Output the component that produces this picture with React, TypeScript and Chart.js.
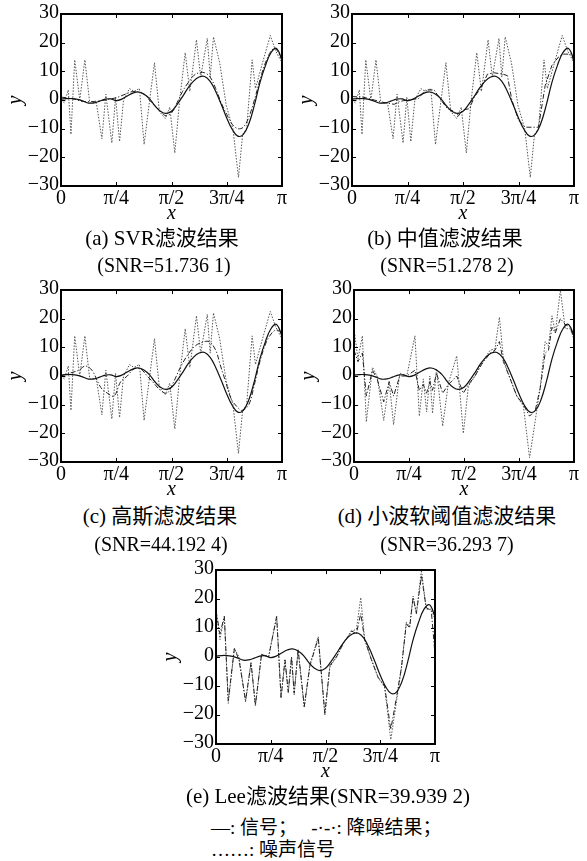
import React, { useEffect, useRef } from "react";
import { Chart, registerables } from "chart.js";
Chart.register(...registerables);

// ---------- tick labels ----------
const xTickValues = [0, 0.25, 0.5, 0.75, 1];
const xTickLabels = ["0", "π/4", "π/2", "3π/4", "π"];
const yTickValues = [-30, -20, -10, 0, 10, 20, 30];

// ---------- original signal (x in units of π) ----------
const signalX = [0, 0.025, 0.05, 0.075, 0.1, 0.125, 0.15, 0.175, 0.2, 0.225, 0.25, 0.275, 0.3, 0.325, 0.35, 0.375, 0.4, 0.425, 0.45, 0.475, 0.5, 0.525, 0.55, 0.575, 0.6, 0.625, 0.65, 0.675, 0.7, 0.725, 0.75, 0.775, 0.8, 0.825, 0.85, 0.875, 0.9, 0.925, 0.95, 0.975, 1.0];
const signalY = [0.3, 0.5, 0.5, 0.2, -0.4, -1.1, -1.0, -0.4, 0.3, 0.4, -0.2, 0.3, 1.4, 2.4, 2.8, 2.1, 0.5, -2.0, -3.9, -4.7, -3.9, -1.6, 1.2, 4.2, 6.6, 8.0, 8.2, 6.5, 3.0, -1.5, -6.3, -10.3, -12.6, -12.0, -8.3, -1.8, 6.0, 12.0, 16.5, 18.0, 14.0];

// ---------- noisy signal used in (a)(b)(c) ----------
const noiseAX = [0, 0.015, 0.033, 0.045, 0.062, 0.085, 0.108, 0.13, 0.16, 0.185, 0.203, 0.23, 0.247, 0.265, 0.283, 0.31, 0.33, 0.355, 0.376, 0.398, 0.423, 0.445, 0.472, 0.492, 0.515, 0.537, 0.562, 0.583, 0.613, 0.632, 0.662, 0.675, 0.69, 0.718, 0.748, 0.778, 0.803, 0.822, 0.84, 0.865, 0.88, 0.912, 0.947, 0.972, 1.0];
const noiseAY = [0, -1, 3.5, -12, 14, 0, 14, -1, -1, -13.5, 2, -15, 1, -14.5, 0, 4, 3, 4, -15.5, -2, 13, -4, -6.5, -2.5, -18.5, 0, 16.5, 3, 21, 8, 21.5, 8, 22, 13, -2, -10, -27, -12, -10, 14, 4, 13, 22.5, 17, 13];

// ---------- (a) SVR result ----------
const svrX = [0, 0.05, 0.1, 0.15, 0.2, 0.25, 0.3, 0.33, 0.375, 0.4, 0.45, 0.475, 0.5, 0.525, 0.55, 0.575, 0.6, 0.625, 0.65, 0.675, 0.7, 0.725, 0.75, 0.775, 0.8, 0.825, 0.85, 0.875, 0.9, 0.925, 0.95, 0.97, 1.0];
const svrY = [1, 0.5, -0.5, -0.5, 0, 0.8, 2.3, 3, 2, 0, -4, -5.5, -4.5, -1, 3, 6, 8.5, 9.5, 9.5, 8, 4, -1, -5, -8.5, -10, -9.5, -6, 0, 7, 13, 17, 18, 14];

// ---------- (b) median result ----------
const medX = [0, 0.05, 0.1, 0.15, 0.19, 0.215, 0.25, 0.3, 0.33, 0.37, 0.4, 0.43, 0.46, 0.48, 0.5, 0.53, 0.55, 0.58, 0.61, 0.64, 0.68, 0.7, 0.72, 0.75, 0.78, 0.84, 0.87, 0.9, 0.93, 0.95, 0.99, 1.0];
const medY = [1.2, 1, 0, -1, -1.5, -0.5, 0, 0.5, 3.5, 3.5, 0, -3, -4, -5.5, -3.5, -3, 1, 4, 9, 9.5, 9, 8.5, 0, -7, -9.5, -9.5, 5, 12, 15, 16, 16, 13];

// ---------- (c) Gaussian result ----------
const gaussX = [0, 0.04, 0.08, 0.11, 0.14, 0.18, 0.21, 0.24, 0.27, 0.3, 0.33, 0.36, 0.39, 0.42, 0.45, 0.48, 0.51, 0.54, 0.57, 0.6, 0.63, 0.67, 0.7, 0.72, 0.745, 0.77, 0.8, 0.82, 0.85, 0.875, 0.9, 0.93, 0.96, 0.98, 1.0];
const gaussY = [0, 1, 2, 3.5, 2, -4, -6, -7, -2, 0, 2.5, 2.5, 0, -2.5, -5, -6, -2, 3, 7, 10, 11.5, 12, 9, 4, -2, -8, -11, -12, -10, -3, 5, 12, 15.5, 16, 15];

// ---------- noisy signal used in (d)(e) ----------
const noiseBX = [0, 0.018, 0.038, 0.056, 0.084, 0.105, 0.135, 0.16, 0.18, 0.208, 0.24, 0.277, 0.297, 0.315, 0.33, 0.345, 0.357, 0.375, 0.403, 0.429, 0.467, 0.497, 0.52, 0.55, 0.58, 0.619, 0.641, 0.661, 0.679, 0.71, 0.74, 0.77, 0.798, 0.824, 0.847, 0.869, 0.884, 0.9, 0.915, 0.938, 0.96, 0.983, 1.0];
const noiseBY = [16.5, 6, 14, -16, 3, 0, -15.5, -2, -17, 1, 0, 14, -14, -1, -12.5, 0, -13, 2.5, -17.5, -2.5, 7, -20, -3.5, 0, 4.5, 9, 9.5, 20.5, 6, -1, -7, -10.5, -28.5, -15.5, -3.5, 12, 10.5, 21, 15, 30, 16.5, 16.5, 13];

// ---------- (d) wavelet soft threshold result ----------
const waveletY = [9, 5, 8, -7, 2, -1, -9, -2, -7, 0, 0, 2, -5, -3, -6, -2, -5, 1, -6, -3, 0, -6, -3, 0, 4, 8, 9, 12, 5, -1, -7, -10, -14, -12, -4, 8, 9, 17, 15, 20, 18, 17, 13];

// ---------- (e) Lee result ----------
const leeY = [16, 8, 14, -15, 3, -1, -15, -2, -16.5, 1, 0, 14, -14, -1, -12, 0, -12.5, 2.5, -17, -3, 6.5, -19.5, -3, 0, 4.5, 9, 8, 15, 6, -1, -7, -10, -25, -14, -3.5, 11.5, 10, 20.5, 15, 28, 17, 16, 1];

const SERIF = "'Liberation Serif', 'Times New Roman', 'Noto Sans CJK SC', serif";

const pts = (xs: number[], ys: number[]) => xs.map((x, i) => ({ x, y: ys[i] }));

type Kind = "signal" | "denoise" | "noise";
interface Series { xs: number[]; ys: number[]; kind: Kind; smooth?: boolean }

const styleFor = (s: Series) => {
  if (s.kind === "signal")
    return { borderColor: "#111", borderWidth: 1.2, borderDash: [], tension: 0.4 };
  if (s.kind === "denoise")
    return { borderColor: "#222", borderWidth: 1, borderDash: [5, 2, 1.2, 2], tension: s.smooth ? 0.35 : 0 };
  return { borderColor: "#555", borderWidth: 1, borderDash: [1.5, 1.5], tension: 0 };
};

const framePlugin = {
  id: "frameTicks",
  afterDatasetsDraw(chart: any) {
    const { ctx, chartArea: a, scales } = chart;
    const xs = scales.x;
    const ys = scales.y;
    ctx.save();
    ctx.strokeStyle = "#000";
    ctx.lineWidth = 1;
    ctx.setLineDash([]);
    ctx.beginPath();
    xTickValues.slice(1, -1).forEach((v) => {
      const px = Math.round(xs.getPixelForValue(v)) + 0.5;
      ctx.moveTo(px, a.bottom);
      ctx.lineTo(px, a.bottom - 4);
      ctx.moveTo(px, a.top);
      ctx.lineTo(px, a.top + 4);
    });
    yTickValues.slice(1, -1).forEach((v) => {
      const py = Math.round(ys.getPixelForValue(v)) + 0.5;
      ctx.moveTo(a.left, py);
      ctx.lineTo(a.left + 4, py);
      ctx.moveTo(a.right, py);
      ctx.lineTo(a.right - 4, py);
    });
    ctx.stroke();
    ctx.lineWidth = 2;
    ctx.strokeRect(a.left, a.top, a.right - a.left, a.bottom - a.top);
    ctx.restore();
  },
};

const Y_AXIS_W = 61;
const X_AXIS_H = 40;
const PAD_TOP = 14;
const PAD_RIGHT = 12;
const TICK_SIZE = 20;

function Panel(props: { plotL: number; plotT: number; plotW: number; plotH: number; series: Series[] }) {
  const ref = useRef<HTMLCanvasElement>(null);
  const { plotL, plotT, plotW, plotH, series } = props;
  const w = Y_AXIS_W + plotW + PAD_RIGHT;
  const h = PAD_TOP + plotH + X_AXIS_H;
  useEffect(() => {
    if (!ref.current) return;
    const chart = new Chart(ref.current, {
      type: "line",
      data: {
        datasets: series.map((s) => ({
          data: pts(s.xs, s.ys),
          pointRadius: 0,
          fill: false,
          ...styleFor(s),
        })),
      },
      options: {
        animation: false,
        responsive: false,
        maintainAspectRatio: false,
        devicePixelRatio: 1,
        layout: { padding: { left: 0, top: PAD_TOP, right: PAD_RIGHT, bottom: 0 } },
        plugins: { legend: { display: false }, tooltip: { enabled: false } },
        scales: {
          x: {
            type: "linear",
            min: 0,
            max: 1,
            border: { display: false },
            grid: { display: false, drawTicks: false },
            afterBuildTicks: (scale: any) => {
              scale.ticks = xTickValues.map((v) => ({ value: v }));
            },
            afterFit: (scale: any) => {
              scale.height = X_AXIS_H;
            },
            ticks: {
              autoSkip: false,
              maxRotation: 0,
              padding: 1,
              color: "#000",
              font: { family: SERIF, size: TICK_SIZE },
              callback: (_v: any, i: number) => xTickLabels[i],
            },
            title: {
              display: true,
              text: "x",
              color: "#000",
              padding: { top: 0, bottom: 0 },
              font: { family: SERIF, size: 20, style: "italic" },
            },
          },
          y: {
            type: "linear",
            min: -30,
            max: 30,
            border: { display: false },
            grid: { display: false, drawTicks: false },
            afterBuildTicks: (scale: any) => {
              scale.ticks = yTickValues.map((v) => ({ value: v }));
            },
            afterFit: (scale: any) => {
              scale.width = Y_AXIS_W;
            },
            ticks: {
              padding: 2,
              labelOffset: -1,
              color: "#000",
              font: { family: SERIF, size: TICK_SIZE },
              callback: (v: any) => String(v).replace("-", "−"),
            },
            title: {
              display: true,
              text: "y",
              color: "#000",
              padding: { top: 4, bottom: 0 },
              font: { family: SERIF, size: 20, style: "italic" },
            },
          },
        },
      } as any,
      plugins: [framePlugin],
    });
    return () => chart.destroy();
  }, []);
  return (
    <canvas
      ref={ref}
      width={w}
      height={h}
      style={{ position: "absolute", left: plotL - Y_AXIS_W, top: plotT - PAD_TOP, width: w, height: h }}
    />
  );
}

function Caption(props: { cx: number; cy: number; text: string; size?: number }) {
  const size = props.size ?? 21;
  return (
    <div
      style={{
        position: "absolute",
        left: props.cx - 200,
        width: 400,
        top: props.cy - 13,
        height: 26,
        lineHeight: "26px",
        textAlign: "center",
        fontFamily: SERIF,
        fontSize: size,
        color: "#000",
        whiteSpace: "nowrap",
      }}
    >
      {props.text}
    </div>
  );
}

function LeftText(props: { x: number; cy: number; text: string; size?: number }) {
  const size = props.size ?? 19;
  return (
    <div
      style={{
        position: "absolute",
        left: props.x,
        top: props.cy - 12,
        height: 24,
        lineHeight: "24px",
        fontFamily: SERIF,
        fontSize: size,
        color: "#000",
        whiteSpace: "pre",
      }}
    >
      {props.text}
    </div>
  );
}

const sig: Series = { xs: signalX, ys: signalY, kind: "signal" };
const noiseA: Series = { xs: noiseAX, ys: noiseAY, kind: "noise" };
const noiseB: Series = { xs: noiseBX, ys: noiseBY, kind: "noise" };

export default function App() {
  return (
    <div style={{ position: "absolute", left: 0, top: 0, width: 587, height: 861, background: "#fff", overflow: "hidden" }}>
      <Panel plotL={61} plotT={14} plotW={221} plotH={172}
        series={[sig, { xs: svrX, ys: svrY, kind: "denoise", smooth: true }, noiseA]} />
      <Panel plotL={352} plotT={14} plotW={222} plotH={172}
        series={[sig, { xs: medX, ys: medY, kind: "denoise" }, noiseA]} />
      <Panel plotL={61} plotT={290} plotW={221} plotH={172}
        series={[sig, { xs: gaussX, ys: gaussY, kind: "denoise", smooth: true }, noiseA]} />
      <Panel plotL={354} plotT={290} plotW={220} plotH={172}
        series={[sig, { xs: noiseBX, ys: waveletY, kind: "denoise" }, noiseB]} />
      <Panel plotL={216} plotT={570} plotW={219} plotH={174}
        series={[sig, { xs: noiseBX, ys: leeY, kind: "denoise" }, noiseB]} />

      <Caption cx={162} cy={238} text="(a) SVR滤波结果" />
      <Caption cx={164} cy={265} size={20} text="(SNR=51.736 1)" />
      <Caption cx={445} cy={238} text="(b) 中值滤波结果" />
      <Caption cx={447} cy={265} size={20} text="(SNR=51.278 2)" />
      <Caption cx={160} cy={516} text="(c) 高斯滤波结果" />
      <Caption cx={161} cy={544} size={20} text="(SNR=44.192 4)" />
      <Caption cx={447} cy={516} text="(d) 小波软阈值滤波结果" />
      <Caption cx={447} cy={544} size={20} text="(SNR=36.293 7)" />
      <Caption cx={328} cy={796} text="(e) Lee滤波结果(SNR=39.939 2)" />
      <LeftText x={211} cy={828} text={"—: 信号；   -·-·: 降噪结果；"} />
      <LeftText x={211} cy={850} text={"……: 噪声信号"} />
    </div>
  );
}
